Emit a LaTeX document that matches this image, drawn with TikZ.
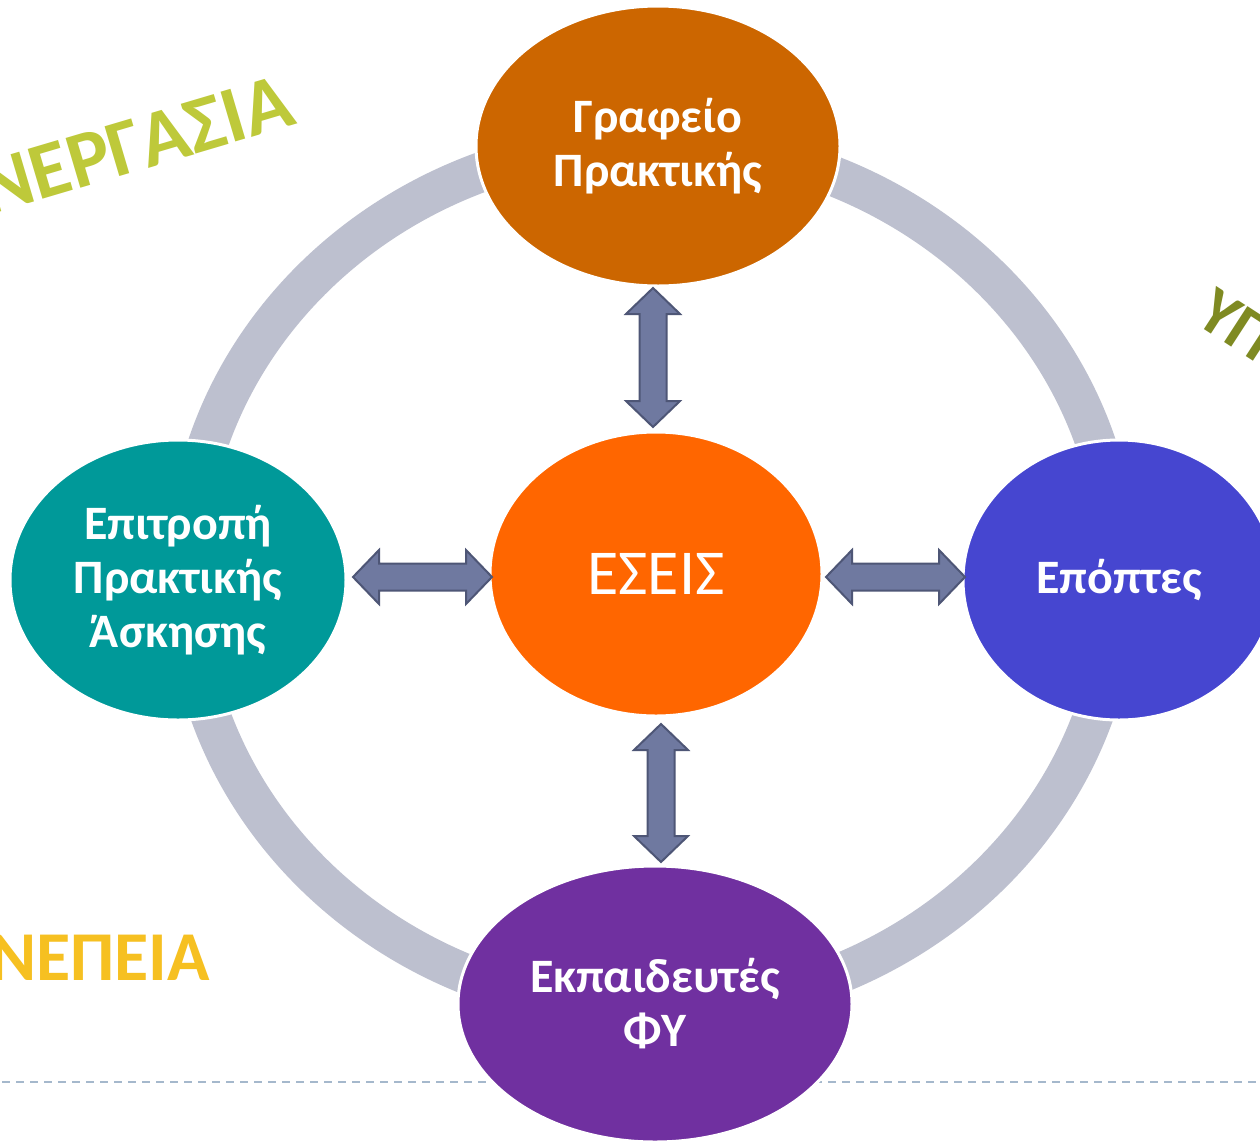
\documentclass[tikz,border=0pt]{standalone}
\usepackage{fontspec}
\setmainfont{Carlito}
\usetikzlibrary{shapes.geometric}
\definecolor{cTop}{HTML}{CC6600}
\definecolor{cMid}{HTML}{FF6600}
\definecolor{cLeft}{HTML}{009999}
\definecolor{cRight}{HTML}{4646D0}
\definecolor{cBottom}{HTML}{7030A0}
\definecolor{cRing}{HTML}{BDC0CF}
\definecolor{arrowfill}{HTML}{6F79A0}
\definecolor{arrowline}{HTML}{4E5676}
\definecolor{cDash}{HTML}{A5B8CC}
\definecolor{cGreen}{HTML}{BEC93A}
\definecolor{cYellow}{HTML}{F6C021}
\definecolor{cOlive}{HTML}{7F8A22}
\newcommand\blockarrow[3]{%
  \draw[barrow, shift={(#1)}, rotate=#3] (0,0) -- (26,27) -- (26,13.5) -- ({#2-26},13.5) -- ({#2-26},27) -- (#2,0) -- ({#2-26},-27) -- ({#2-26},-13.5) -- (26,-13.5) -- (26,-27) -- cycle;}
\begin{document}
\begin{tikzpicture}[x=1pt,y=-1pt,
  bubble/.style={ellipse, draw=white, line width=3pt, inner sep=0pt, text=white, align=center,
    font=\bfseries\fontsize{48}{54}\selectfont},
  barrow/.style={fill=arrowfill, draw=arrowline, line width=2pt, line join=miter},
  ring/.style={draw=cRing, line width=40pt},
  dashline/.style={draw=cDash, line width=2pt, dash pattern=on 8pt off 6pt},
  corner/.style={inner sep=0pt, font=\bfseries\fontsize{80}{88}\selectfont}]
\useasboundingbox (0,0) rectangle (1260,1141);
\clip (0,0) rectangle (1260,1141);
\fill[white] (0,0) rectangle (1260,1141);
\draw[dashline] (2,1082) -- (1258,1082);
\draw[ring] (652,576) ellipse [x radius=466, y radius=434];
\node[bubble, fill=cTop, minimum width=364pt, minimum height=280pt] (grafeio) at (658,146) {Γραφείο\\Πρακτικής};
\node[bubble, fill=cMid, minimum width=332pt, minimum height=284pt, font=\fontsize{64}{70}\selectfont] (eseis) at (656,574) {ΕΣΕΙΣ};
\node[bubble, fill=cLeft, minimum width=336pt, minimum height=280pt] (epitropi) at (178,580) {Επιτροπή\\Πρακτικής\\Άσκησης};
\node[bubble, fill=cRight, minimum width=312pt, minimum height=280pt] (epoptes) at (1119,580) {Επόπτες};
\node[bubble, fill=cBottom, minimum width=394pt, minimum height=276pt] (ekp) at (655,1004) {Εκπαιδευτές\\ΦΥ};
\coordinate (aTop) at (653,288);
\coordinate (aLeft) at (353,577);
\coordinate (aRight) at (826,577);
\coordinate (aBottom) at (661,724);
\blockarrow{aTop}{139}{-90}
\blockarrow{aLeft}{139}{0}
\blockarrow{aRight}{139}{0}
\blockarrow{aBottom}{138}{-90}
\node[corner, text=cGreen, rotate=16.5, anchor=base east] (synergasia) at (298,124) {ΝΕΡΓΑΣΙΑ};
\node[corner, text=cYellow, anchor=base east, font=\bfseries\fontsize{70}{80}\selectfont] (synepeia) at (210,980) {ΝΕΠΕΙΑ};
\node[corner, text=cOlive, rotate=-33, anchor=base west, font=\bfseries\fontsize{66}{72}\selectfont] (ypeuth) at (1193,322) {ΥΠ};
\end{tikzpicture}
\end{document}
